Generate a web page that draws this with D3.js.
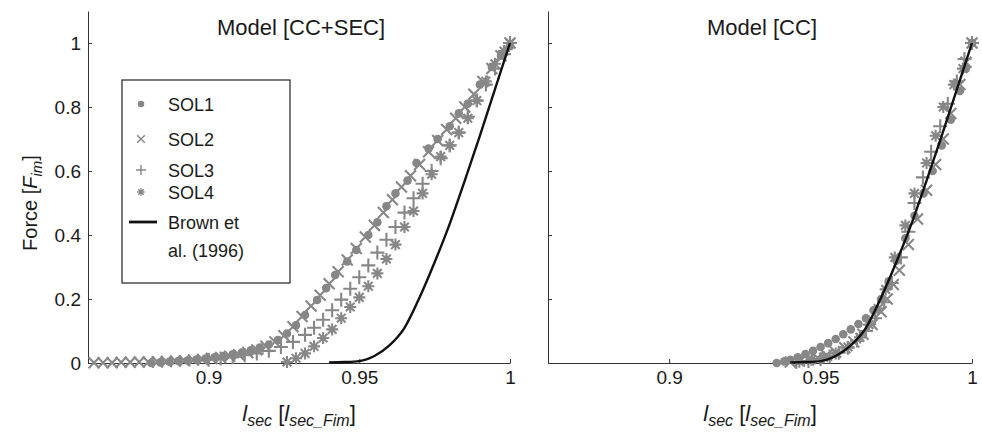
<!DOCTYPE html>
<html>
<head>
<meta charset="utf-8">
<script src="https://cdn.jsdelivr.net/npm/d3@7"></script>
<style>
  body { margin: 0; background: #fff; }
  svg { font-family: "Liberation Sans", Arial, sans-serif; }
</style>
</head>
<body>
<svg id="chart" width="982" height="432"></svg>
<script>
// ---- data ----
const xTicks = [0.9, 0.95, 1]
const yTicks = [0, 0.2, 0.4, 0.6, 0.8, 1]
const panelTitles = ["Model [CC+SEC]", "Model [CC]"]
const legendNames = ["SOL1", "SOL2", "SOL3", "SOL4"]

// Brown et al. (1996) curve (same in both panels)
const brownX = [0.940, 0.945, 0.950, 0.955, 0.960, 0.965, 0.970, 0.975, 0.980, 0.985, 0.990, 0.995, 1.0]
const brownY = [0.002, 0.003, 0.006, 0.022, 0.055, 0.11, 0.205, 0.315, 0.435, 0.57, 0.71, 0.855, 1.0]

// left panel: Model [CC+SEC]
const sol1X = [0.881, 0.884, 0.887, 0.890, 0.893, 0.896, 0.899, 0.902, 0.905, 0.908, 0.911, 0.914, 0.917, 0.920, 0.923, 0.926, 0.929, 0.932, 0.936, 0.939, 0.942, 0.946, 0.949, 0.953, 0.956, 0.959, 0.962, 0.966, 0.969, 0.973, 0.976, 0.980, 0.983, 0.986, 0.990, 0.994, 0.997, 1.0]
const sol1Y = [0, 0.002, 0.004, 0.006, 0.008, 0.011, 0.014, 0.018, 0.022, 0.027, 0.033, 0.040, 0.048, 0.058, 0.072, 0.092, 0.118, 0.15, 0.197, 0.234, 0.275, 0.317, 0.353, 0.40, 0.44, 0.49, 0.53, 0.57, 0.625, 0.67, 0.70, 0.74, 0.78, 0.81, 0.87, 0.925, 0.96, 0.99]

const sol2X = [0.862, 0.865, 0.868, 0.871, 0.874, 0.877, 0.880, 0.883, 0.886, 0.889, 0.892, 0.895, 0.898, 0.901, 0.904, 0.907, 0.910, 0.913, 0.916, 0.919, 0.922, 0.925, 0.928, 0.931, 0.934, 0.937, 0.940, 0.943, 0.946, 0.949, 0.952, 0.955, 0.958, 0.961, 0.964, 0.967, 0.970, 0.973, 0.976, 0.979, 0.982, 0.985, 0.988, 0.991, 0.994, 0.997, 1.0]
const sol2Y = [0.001, 0.001, 0.001, 0.002, 0.002, 0.003, 0.003, 0.004, 0.005, 0.006, 0.007, 0.009, 0.011, 0.014, 0.017, 0.021, 0.026, 0.033, 0.041, 0.052, 0.066, 0.085, 0.113, 0.145, 0.178, 0.212, 0.248, 0.285, 0.322, 0.358, 0.394, 0.43, 0.47, 0.51, 0.55, 0.585, 0.62, 0.66, 0.695, 0.73, 0.765, 0.80, 0.84, 0.88, 0.92, 0.96, 1.0]

const sol3X = [0.900, 0.904, 0.908, 0.912, 0.916, 0.920, 0.924, 0.928, 0.932, 0.935, 0.938, 0.941, 0.944, 0.947, 0.950, 0.953, 0.956, 0.959, 0.962, 0.965, 0.968, 0.971, 0.974, 0.977, 0.980, 0.983, 0.986, 0.989, 0.992, 0.995, 0.998, 1.0]
const sol3Y = [0.010, 0.014, 0.018, 0.024, 0.030, 0.038, 0.050, 0.066, 0.088, 0.11, 0.135, 0.165, 0.198, 0.232, 0.268, 0.305, 0.345, 0.385, 0.425, 0.47, 0.515, 0.56, 0.60, 0.64, 0.68, 0.72, 0.77, 0.82, 0.87, 0.92, 0.965, 1.0]

const sol4X = [0.926, 0.929, 0.932, 0.935, 0.938, 0.941, 0.944, 0.947, 0.950, 0.953, 0.956, 0.959, 0.962, 0.965, 0.968, 0.971, 0.974, 0.977, 0.980, 0.983, 0.986, 0.989, 0.992, 0.995, 0.998, 1.0]
const sol4Y = [0.003, 0.015, 0.03, 0.052, 0.078, 0.105, 0.14, 0.175, 0.205, 0.24, 0.28, 0.325, 0.37, 0.425, 0.475, 0.53, 0.59, 0.645, 0.68, 0.72, 0.765, 0.82, 0.88, 0.935, 0.975, 1.0]

// right panel: Model [CC]
const cc1X = [0.9355, 0.938, 0.940, 0.9425, 0.945, 0.9475, 0.950, 0.9525, 0.955, 0.9575, 0.960, 0.9625, 0.965, 0.9675, 0.970, 0.9725, 0.975, 0.978, 0.981, 0.984, 0.987, 0.990, 0.993, 0.996, 0.998, 1.0]
const cc1Y = [0, 0.005, 0.01, 0.018, 0.028, 0.038, 0.05, 0.062, 0.075, 0.09, 0.105, 0.122, 0.14, 0.165, 0.2, 0.255, 0.32, 0.39, 0.46, 0.53, 0.6, 0.68, 0.76, 0.85, 0.92, 1.0]

const cc2X = [0.940, 0.943, 0.946, 0.949, 0.952, 0.955, 0.958, 0.961, 0.964, 0.967, 0.970, 0.972, 0.974, 0.976, 0.979, 0.982, 0.985, 0.988, 0.9905, 0.993, 0.996, 0.998, 1.0]
const cc2Y = [0.003, 0.006, 0.01, 0.016, 0.024, 0.034, 0.048, 0.066, 0.09, 0.12, 0.16, 0.2, 0.245, 0.29, 0.37, 0.45, 0.54, 0.62, 0.7, 0.78, 0.87, 0.94, 1.0]

const cc3X = [0.942, 0.946, 0.950, 0.953, 0.956, 0.959, 0.962, 0.965, 0.968, 0.971, 0.9735, 0.9765, 0.979, 0.981, 0.9838, 0.9865, 0.9895, 0.992, 0.995, 0.9975, 1.0]
const cc3Y = [0.003, 0.006, 0.012, 0.02, 0.032, 0.048, 0.07, 0.1, 0.14, 0.19, 0.25, 0.33, 0.41, 0.5, 0.58, 0.66, 0.74, 0.81, 0.88, 0.95, 1.0]

const cc4X = [0.943, 0.947, 0.951, 0.955, 0.959, 0.963, 0.966, 0.969, 0.9715, 0.9745, 0.978, 0.981, 0.985, 0.988, 0.9905, 0.994, 0.997, 1.0]
const cc4Y = [0.004, 0.01, 0.018, 0.03, 0.05, 0.08, 0.12, 0.17, 0.23, 0.33, 0.43, 0.53, 0.625, 0.71, 0.8, 0.87, 0.92, 1.0]

const toPoints = (xs, ys) => xs.map((x, i) => ({ x: x, y: ys[i] }))

const panels = [
    {
        title: panelTitles[0],
        range: [88, 510],
        showYLabels: true,
        series: [toPoints(sol1X, sol1Y), toPoints(sol2X, sol2Y), toPoints(sol3X, sol3Y), toPoints(sol4X, sol4Y)]
    },
    {
        title: panelTitles[1],
        range: [548, 972],
        showYLabels: false,
        series: [toPoints(cc1X, cc1Y), toPoints(cc2X, cc2Y), toPoints(cc3X, cc3Y), toPoints(cc4X, cc4Y)]
    }
]
const brown = toPoints(brownX, brownY)

// ---- drawing ----
const svg = d3.select("#chart")
const markerColor = "#878787"
const textColor = "#1a1a1a"
const symbols = ["dot", "x", "plus", "star"]

const yScale = d3.scaleLinear().domain([0, 1.1]).range([363, 11])

function symbolPath(type, s) {
    if (type === "x") {
        return `M${-s},${-s}L${s},${s}M${-s},${s}L${s},${-s}`
    }
    if (type === "plus") {
        return `M${-s},0H${s}M0,${-s}V${s}`
    }
    const d = s * 0.72
    return `M${-s},0H${s}M0,${-s}V${s}M${-d},${-d}L${d},${d}M${-d},${d}L${d},${-d}`
}

function drawMarkers(g, data, type, xScale) {
    if (type === "dot") {
        g.selectAll("circle")
            .data(data)
            .enter()
            .append("circle")
            .attr("cx", d => xScale(d.x))
            .attr("cy", d => yScale(d.y))
            .attr("r", 4.3)
            .attr("fill", markerColor)
        return
    }
    const size = type === "plus" ? 7 : type === "x" ? 5.5 : 6
    g.selectAll("path")
        .data(data)
        .enter()
        .append("path")
        .attr("transform", d => `translate(${xScale(d.x)},${yScale(d.y)})`)
        .attr("d", symbolPath(type, size))
        .attr("fill", "none")
        .attr("stroke", markerColor)
        .attr("stroke-width", 2.1)
}

panels.forEach(panel => {
    const xScale = d3.scaleLinear().domain([0.86, 1]).range(panel.range)
    const g = svg.append("g")

    // axes
    const xAxis = d3.axisBottom(xScale)
        .tickValues(xTicks)
        .tickFormat(d3.format("~g"))
        .tickSizeInner(-4)
        .tickSizeOuter(0)
        .tickPadding(8)
    const xg = g.append("g")
        .attr("transform", `translate(0, ${yScale(0)})`)
        .call(xAxis)

    const yAxis = d3.axisLeft(yScale)
        .tickValues(yTicks)
        .tickFormat(panel.showYLabels ? d3.format("~g") : "")
        .tickSizeInner(-4)
        .tickSizeOuter(0)
        .tickPadding(7)
    const yg = g.append("g")
        .attr("transform", `translate(${panel.range[0]}, 0)`)
        .call(yAxis)

    ;[xg, yg].forEach(a => {
        a.select(".domain").attr("stroke", "#333").attr("stroke-width", 1)
        a.selectAll(".tick line").attr("stroke", "#333")
        a.selectAll("text").attr("font-size", 19).attr("fill", textColor)
            .attr("font-family", "Liberation Sans, Arial, sans-serif")
    })

    // title
    g.append("text")
        .attr("x", (panel.range[0] + panel.range[1]) / 2 + 2)
        .attr("y", 35)
        .attr("text-anchor", "middle")
        .attr("font-size", 22)
        .attr("fill", textColor)
        .text(panel.title)

    // x label: l_sec [l_sec_Fim]
    const xl = g.append("text")
        .attr("x", (panel.range[0] + panel.range[1]) / 2)
        .attr("y", 421)
        .attr("text-anchor", "middle")
        .attr("font-size", 22)
        .attr("fill", textColor)
    xl.append("tspan").attr("font-style", "italic").text("l")
    xl.append("tspan").attr("font-style", "italic").attr("font-size", 16).attr("dy", 5).text("sec")
    xl.append("tspan").attr("dy", -5).text(" [")
    xl.append("tspan").attr("font-style", "italic").text("l")
    xl.append("tspan").attr("font-style", "italic").attr("font-size", 16).attr("dy", 5).text("sec_Fim")
    xl.append("tspan").attr("dy", -5).text("]")

    // markers
    panel.series.forEach((data, i) => {
        drawMarkers(g.append("g"), data, symbols[i], xScale)
    })

    // Brown et al. line
    const line = d3.line().x(d => xScale(d.x)).y(d => yScale(d.y)).curve(d3.curveMonotoneX)
    g.append("path")
        .datum(brown)
        .attr("d", line)
        .attr("fill", "none")
        .attr("stroke", "#111")
        .attr("stroke-width", 2.4)
})

// y label
const yl = svg.append("text")
    .attr("transform", "translate(37, 203) rotate(-90)")
    .attr("text-anchor", "middle")
    .attr("font-size", 20)
    .attr("fill", textColor)
yl.append("tspan").text("Force [")
yl.append("tspan").attr("font-style", "italic").text("F")
yl.append("tspan").attr("font-style", "italic").attr("font-size", 15).attr("dy", 5).text("im")
yl.append("tspan").attr("dy", -5).text("]")

// legend
const legend = svg.append("g")
legend.append("rect")
    .attr("x", 122).attr("y", 80)
    .attr("width", 168).attr("height", 203)
    .attr("fill", "#fff")
    .attr("stroke", "#222")
    .attr("stroke-width", 1.2)

const legendRows = [104, 139, 170, 192]
legendNames.forEach((name, i) => {
    const row = legend.append("g").attr("transform", `translate(141, ${legendRows[i]})`)
    const sym = symbols[i]
    if (sym === "dot") {
        row.append("circle").attr("r", 3.3).attr("fill", markerColor)
    } else {
        row.append("path")
            .attr("d", symbolPath(sym, sym === "plus" ? 5 : 3.8))
            .attr("fill", "none")
            .attr("stroke", markerColor)
            .attr("stroke-width", 1.4)
    }
    row.append("text")
        .attr("x", 27).attr("y", 6.5)
        .attr("font-size", 18)
        .attr("fill", textColor)
        .text(name)
})
legend.append("line")
    .attr("x1", 129).attr("x2", 157)
    .attr("y1", 222).attr("y2", 222)
    .attr("stroke", "#111").attr("stroke-width", 2.8)
legend.append("text").attr("x", 168).attr("y", 228.5).attr("font-size", 18).attr("fill", textColor).text("Brown et")
legend.append("text").attr("x", 168).attr("y", 256.5).attr("font-size", 18).attr("fill", textColor).text("al. (1996)")
</script>
</body>
</html>
